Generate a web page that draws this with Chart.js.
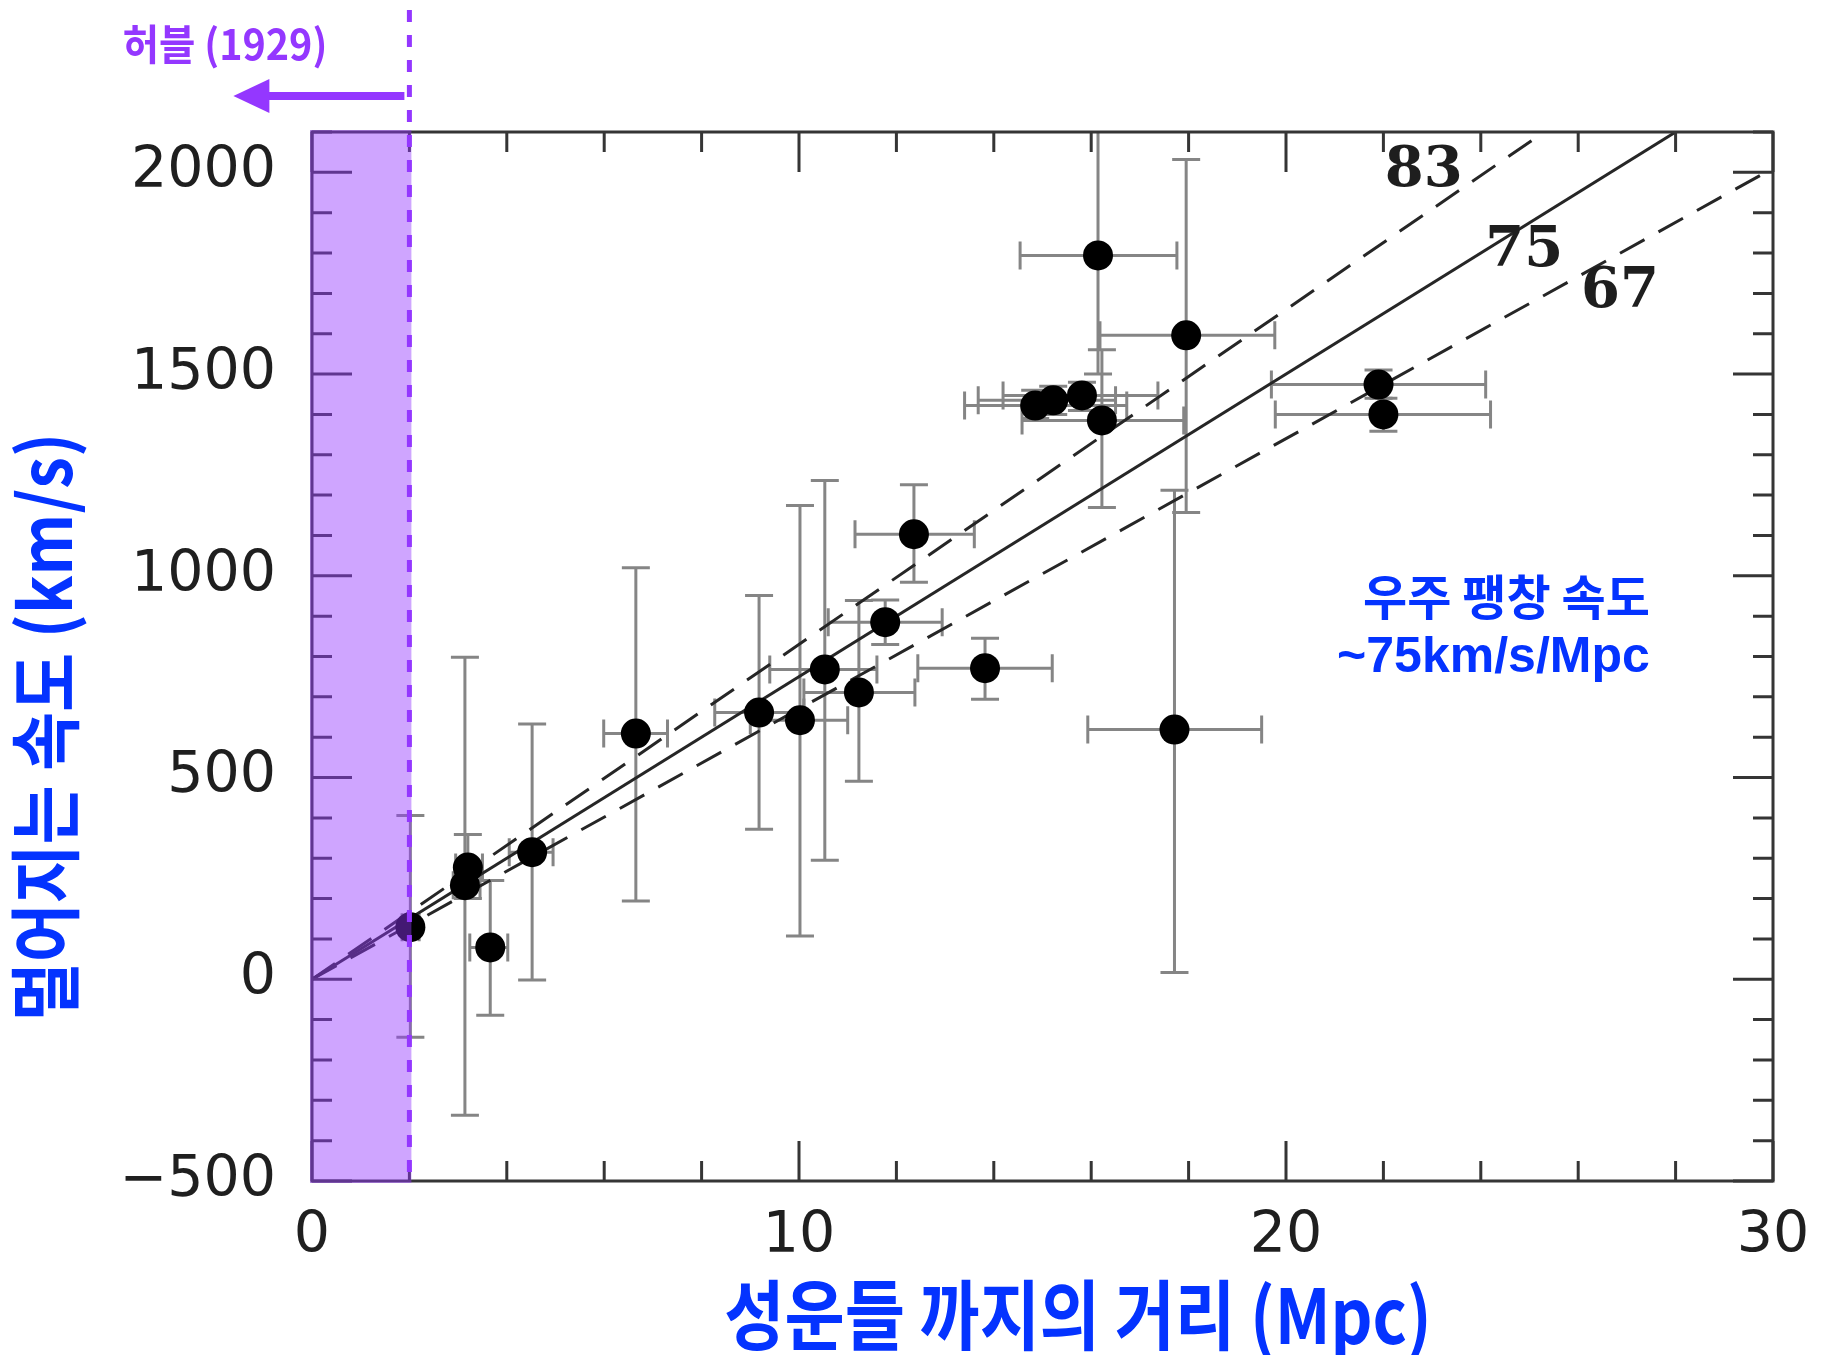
<!DOCTYPE html>
<html>
<head>
<meta charset="utf-8">
<script src="https://cdn.jsdelivr.net/npm/chart.js@4.4.1/dist/chart.umd.min.js"></script>
<style>
  html, body { margin: 0; padding: 0; background: #ffffff; }
  #wrap { width: 1824px; height: 1355px; }
</style>
</head>
<body>
<div id="wrap"><canvas id="c" width="1824" height="1355"></canvas></div>
<script>
// ---------------- data ----------------
const distances   = [2.02, 3.20, 3.14, 3.66, 4.52, 6.65, 9.18, 10.02, 10.53, 11.23, 11.77, 12.36, 13.82, 14.85, 15.22, 15.81, 16.22, 16.14, 17.95, 17.71, 21.90, 22.00];
const velocities  = [129, 277, 233, 79, 315, 609, 661, 642, 768, 711, 885, 1103, 771, 1422, 1435, 1447, 1385, 1794, 1596, 619, 1474, 1400];
const distErrLow  = [1.85, 2.95, 2.90, 3.24, 4.05, 5.99, 8.27, 9.00, 9.40, 10.10, 10.60, 11.15, 12.44, 13.40, 13.68, 14.19, 14.58, 14.54, 16.18, 15.93, 19.70, 19.78];
const distErrHigh = [2.20, 3.50, 3.45, 4.02, 4.95, 7.30, 10.10, 11.00, 11.60, 12.38, 12.94, 13.60, 15.20, 16.73, 16.50, 17.37, 17.90, 17.76, 19.77, 19.50, 24.10, 24.20];
const velErrLow   = [-144, 200, -337, -89, -2, 194, 372, 107, 295, 491, 830, 984, 694, 1390, 1400, 1410, 1169, 1500, 1157, 17, 1440, 1358];
const velErrHigh  = [406, 359, 798, 245, 633, 1020, 951, 1174, 1236, 939, 940, 1226, 845, 1460, 1470, 1480, 1560, 2150, 2032, 1212, 1510, 1440];

const fitDistances = [0, 30];
const fitH83 = [0, 2490];
const fitH75 = [0, 2250];
const fitH67 = [0, 2010];
const fitNames = ['83', '75', '67'];

const xTickLabels = [0, 10, 20, 30];
const yTickLabels = [-500, 0, 500, 1000, 1500, 2000];
const hubbleLimit = 2;   // Mpc reached by Hubble in 1929

// ---------------- styles / layout ----------------
const BLUE = '#0433FF';
const PURPLE = '#9437FF';
const INK = '#262626';

function toXY(xs, ys) { return xs.map((x, i) => ({ x: x, y: ys[i] })); }

const decorPlugin = {
  id: 'decor',
  beforeDatasetsDraw(chart) {
    const { ctx, chartArea: a, scales: { x, y } } = chart;
    ctx.save();
    ctx.beginPath();
    ctx.rect(a.left, a.top, a.width, a.height);
    ctx.clip();
    ctx.strokeStyle = '#858585';
    ctx.lineWidth = 3;
    const cap = 14;
    for (let i = 0; i < distances.length; i++) {
      const px = x.getPixelForValue(distances[i]);
      const py = y.getPixelForValue(velocities[i]);
      const xl = x.getPixelForValue(distErrLow[i]);
      const xh = x.getPixelForValue(distErrHigh[i]);
      const yl = y.getPixelForValue(velErrLow[i]);
      const yh = y.getPixelForValue(velErrHigh[i]);
      ctx.beginPath();
      ctx.moveTo(xl, py); ctx.lineTo(xh, py);
      ctx.moveTo(xl, py - cap); ctx.lineTo(xl, py + cap);
      ctx.moveTo(xh, py - cap); ctx.lineTo(xh, py + cap);
      ctx.moveTo(px, yl); ctx.lineTo(px, yh);
      ctx.moveTo(px - cap, yl); ctx.lineTo(px + cap, yl);
      ctx.moveTo(px - cap, yh); ctx.lineTo(px + cap, yh);
      ctx.stroke();
    }
    ctx.restore();
  },
  afterDatasetsDraw(chart) {
    const { ctx, chartArea: a, scales: { x, y } } = chart;
    ctx.save();
    // inward ticks on all four sides
    ctx.strokeStyle = '#353535';
    ctx.lineWidth = 3;
    ctx.beginPath();
    for (let v = 0; v <= 30; v += 2) {
      const px = x.getPixelForValue(v);
      const len = (v % 10 === 0) ? 40 : 20;
      ctx.moveTo(px, a.bottom); ctx.lineTo(px, a.bottom - len);
      ctx.moveTo(px, a.top); ctx.lineTo(px, a.top + len);
    }
    for (let v = -500; v <= 2100; v += 100) {
      const py = y.getPixelForValue(v);
      const len = (v % 500 === 0) ? 40 : 20;
      ctx.moveTo(a.left, py); ctx.lineTo(a.left + len, py);
      ctx.moveTo(a.right, py); ctx.lineTo(a.right - len, py);
    }
    ctx.stroke();
    ctx.strokeRect(a.left, a.top, a.width, a.height);

    // Hubble 1929 region overlay
    const hx = x.getPixelForValue(hubbleLimit);
    ctx.fillStyle = 'rgba(148, 55, 255, 0.45)';
    ctx.fillRect(a.left - 2, a.top - 2, hx - a.left + 4, a.height + 4);
    ctx.restore();
  },
  afterDraw(chart) {
    const { ctx, chartArea: a, scales: { x, y } } = chart;
    const hx = x.getPixelForValue(hubbleLimit);
    ctx.save();
    // purple dashed limit line
    ctx.strokeStyle = PURPLE;
    ctx.lineWidth = 5;
    ctx.setLineDash([12, 13]);
    ctx.beginPath();
    ctx.moveTo(hx, 10);
    ctx.lineTo(hx, a.bottom + 1);
    ctx.stroke();
    ctx.setLineDash([]);

    // arrow pointing left
    const ay = 96;
    ctx.fillStyle = PURPLE;
    ctx.fillRect(hx - 150, ay - 4, 145, 8);
    ctx.beginPath();
    ctx.moveTo(hx - 176, ay);
    ctx.lineTo(hx - 140, ay - 17);
    ctx.lineTo(hx - 140, ay + 17);
    ctx.closePath();
    ctx.fill();

    // "허블 (1929)"
    ctx.fillStyle = PURPLE;
    ctx.font = 'bold 42px "Noto Sans CJK KR"';
    ctx.textAlign = 'center';
    ctx.textBaseline = 'middle';
    ctx.save();
    ctx.translate(225, 44);
    ctx.scale(0.94, 1);
    ctx.fillText('허블 (1929)', 0, 0);
    ctx.restore();

    // fit line labels
    ctx.fillStyle = '#1e1e1e';
    ctx.font = 'bold 56px "DejaVu Serif"';
    const labelPos = [[22.83, 2001], [24.89, 1805], [26.86, 1703]];
    fitNames.forEach((t, i) => {
      ctx.fillText(t, x.getPixelForValue(labelPos[i][0]), y.getPixelForValue(labelPos[i][1]));
    });

    // expansion-rate note
    ctx.fillStyle = BLUE;
    ctx.textAlign = 'right';
    const rx = x.getPixelForValue(27.47);
    ctx.font = 'bold 48px "Noto Sans CJK KR"';
    ctx.fillText('우주 팽창 속도', rx, y.getPixelForValue(948));
    ctx.font = 'bold 50px "Liberation Sans"';
    ctx.fillText('~75km/s/Mpc', rx, y.getPixelForValue(796));

    // axis titles
    ctx.textAlign = 'center';
    ctx.font = 'bold 76px "Noto Sans CJK KR"';
    ctx.save();
    ctx.translate(1078, 1315);
    ctx.scale(0.86, 1);
    ctx.fillText('성운들 까지의 거리 (Mpc)', 0, 0);
    ctx.restore();

    ctx.font = 'bold 72px "Noto Sans CJK KR"';
    ctx.save();
    ctx.translate(45, 727);
    ctx.rotate(-Math.PI / 2);
    ctx.scale(0.89, 1);
    ctx.fillText('멀어지는 속도 (km/s)', 0, 0);
    ctx.restore();

    ctx.restore();
  }
};

const tickFont = { family: 'DejaVu Sans', size: 57, weight: 'normal' };
const fmt = v => (v < 0 ? '\u2212' + Math.abs(v) : String(v));

new Chart(document.getElementById('c'), {
  type: 'scatter',
  data: {
    datasets: [
      {
        label: 'galaxies',
        data: toXY(distances, velocities),
        pointRadius: 15,
        pointHoverRadius: 15,
        pointBackgroundColor: '#000000',
        pointBorderWidth: 0,
        order: 0
      },
      {
        type: 'line', label: 'H0 = 83', data: toXY(fitDistances, fitH83),
        borderColor: INK, borderWidth: 3, borderDash: [28, 16], pointRadius: 0, fill: false, clip: 0, order: 1
      },
      {
        type: 'line', label: 'H0 = 75', data: toXY(fitDistances, fitH75),
        borderColor: INK, borderWidth: 3, pointRadius: 0, fill: false, clip: 0, order: 2
      },
      {
        type: 'line', label: 'H0 = 67', data: toXY(fitDistances, fitH67),
        borderColor: INK, borderWidth: 3, borderDash: [28, 16], pointRadius: 0, fill: false, clip: 0, order: 3
      }
    ]
  },
  options: {
    responsive: false,
    animation: false,
    devicePixelRatio: 1,
    layout: { padding: { left: 0, top: 132, right: 51, bottom: 0 } },
    plugins: { legend: { display: false }, tooltip: { enabled: false } },
    scales: {
      x: {
        type: 'linear', position: 'bottom', min: 0, max: 30,
        grid: { display: false, drawTicks: false },
        border: { display: false },
        ticks: { font: tickFont, color: '#1f1f1f', padding: 22, maxRotation: 0, autoSkip: false, callback: fmt },
        afterBuildTicks: s => { s.ticks = xTickLabels.map(v => ({ value: v })); },
        afterFit: s => { s.height = 174; s.paddingLeft = 0; s.paddingRight = 0; }
      },
      y: {
        type: 'linear', position: 'left', min: -500, max: 2100,
        grid: { display: false, drawTicks: false },
        border: { display: false },
        ticks: { font: tickFont, color: '#1f1f1f', padding: 36, autoSkip: false, callback: fmt },
        afterBuildTicks: s => { s.ticks = yTickLabels.map(v => ({ value: v })); },
        afterFit: s => { s.width = 312; s.paddingTop = 0; s.paddingBottom = 0; }
      }
    }
  },
  plugins: [decorPlugin]
});
</script>
</body>
</html>
